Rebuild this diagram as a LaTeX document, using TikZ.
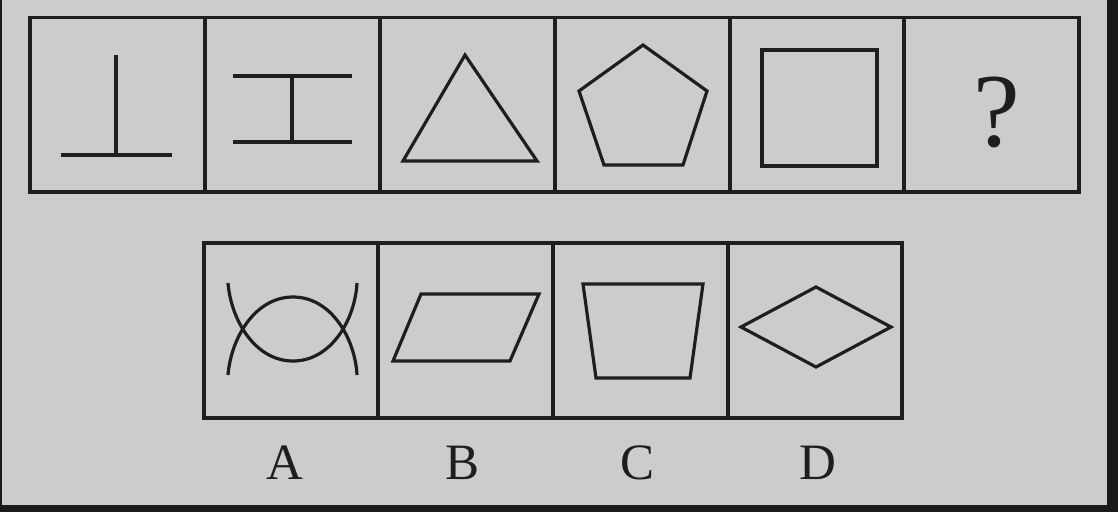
\documentclass[tikz,border=0pt]{standalone}
\usepackage{fontspec}
\setmainfont{Liberation Serif}
\definecolor{bg}{HTML}{CCCCCC}
\definecolor{frame}{HTML}{1A1A1A}
\definecolor{ink}{HTML}{1E1E1E}
\tikzset{
  cellbox/.style={draw=ink, line width=3.4pt},
  figline/.style={draw=ink, line width=3.2pt, line join=miter},
  lbl/.style={inner sep=0pt, anchor=base, text=ink, font=\fontsize{51}{51}\selectfont},
}
\begin{document}
\begin{tikzpicture}[x=1pt,y=-1pt]
\useasboundingbox (0,0) rectangle (1118,512);
\fill[frame] (0,0) rectangle (1118,512);
\fill[bg] (1.5,0) rectangle (1107,505);
% top row
\draw[cellbox] (30,17.5) rectangle (1079,192);
\foreach \x in {205,380,555,730,904} \draw[cellbox] (\x,17.5) -- (\x,192);
% cell 1
\draw[figline] (116,55) -- (116,155);
\draw[figline] (61,155) -- (172,155);
% cell 2
\draw[figline] (233,76) -- (352,76);
\draw[figline] (233,142) -- (352,142);
\draw[figline] (292,76) -- (292,142);
% cell 3
\draw[figline] (465,55) -- (537,161) -- (403,161) -- cycle;
% cell 4
\draw[figline] (643,45) -- (707,91) -- (683,165) -- (604,165) -- (579,91) -- cycle;
% cell 5
\draw[figline] (762,50) rectangle (877,166);
% cell 6
\node[lbl, font=\fontsize{105}{105}\selectfont] (q) at (997,146) {?};
% bottom row
\draw[cellbox] (204,243) rectangle (902,418);
\foreach \x in {378,553,728} \draw[cellbox] (\x,243) -- (\x,418);
% A
\draw[figline] (228,283) .. controls (231,320) and (255,361) .. (293,361)
               .. controls (331,361) and (355,320) .. (357,283);
\draw[figline] (228,375) .. controls (231,338) and (255,297) .. (293,297)
               .. controls (331,297) and (355,338) .. (357,375);
% B
\draw[figline] (421,294) -- (539,294) -- (510,361) -- (393,361) -- cycle;
% C
\draw[figline] (583,284) -- (703,284) -- (690,378) -- (596,378) -- cycle;
% D
\draw[figline] (741,327) -- (816,287) -- (891,327) -- (816,367) -- cycle;
% labels
\node[lbl] (la) at (285,479) {A};
\node[lbl] (lb) at (463,479) {B};
\node[lbl] (lc) at (637,479) {C};
\node[lbl] (ld) at (818,479) {D};
\end{tikzpicture}
\end{document}
